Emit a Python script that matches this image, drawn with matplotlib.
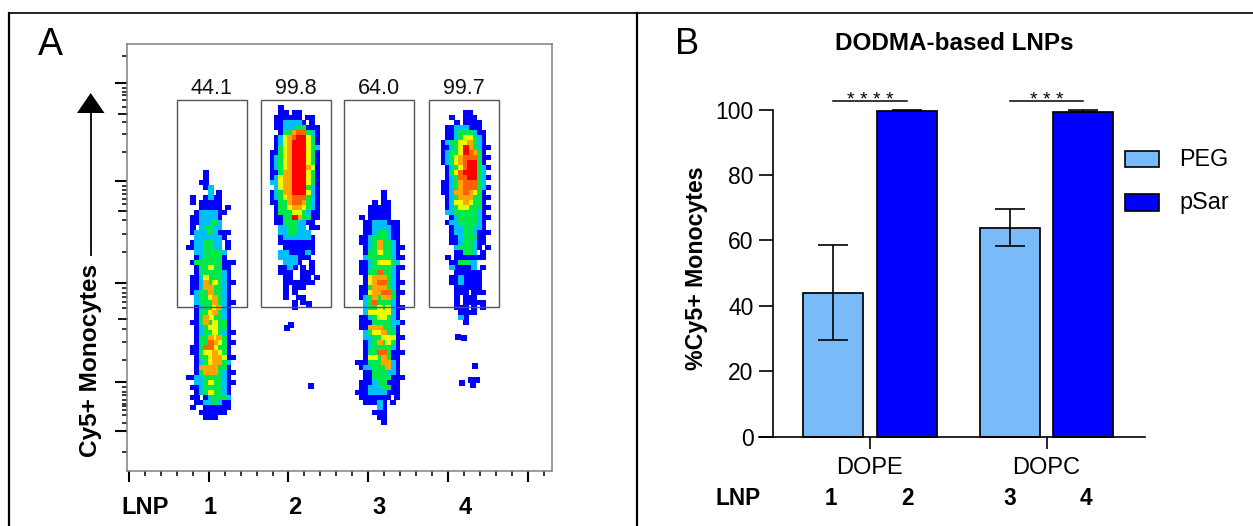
import matplotlib
matplotlib.use('Agg')
import matplotlib.pyplot as plt
from matplotlib.colors import ListedColormap
from matplotlib.patches import Rectangle, Polygon
import numpy as np

plt.rcParams['font.family'] = ['Liberation Sans', 'DejaVu Sans']

# Panel A: density levels, one string per row of cells
# . none, 1 blue, 2 sky, 3 green, 4 yellow, 5 orange, 6 red-orange, 7 red
pop1 = [
    ".....1......", ".....1......", "....11......", ".....12.....", "......2.1...",
    "..1..1211...", "..1.11111...", "....11111.1.", "...1222211..", "..1122221...",
    "..1122232...", "..1.23322...", "..122232111.", "...2222221..", "..1223322.1.",
    ".11223322.1.", "...2233332..", "...1233331..", "..1333333111", "...13343311.",
    "...13333321.", "..112433321.", "..1125343211", "..112553321.", "..123353321.",
    "...23345321.", "...233353211", "...12334521.", "...13345321.", "...13543321.",
    "..113534331.", "...12344331.", "...123343211", "...13354531.", "...133654311",
    "..113664331.", "..113445431.", "...133455411", "...12345532.", "...15555331.",
    "...135553211", ".1122333321.", "...223433211", "..112333321.", "...12343321.",
    "..11.123332.", "...11223211.", "..1..111111.", "....111111..", ".....111....",
]
pop2 = [
    "............", "...1........", "...11.11....", "..111111.11.", "..1122221.1.",
    "..1122233111", "...133566321", "..1245677431", "..1245777431", "..1345777432",
    ".11345777431", ".12345777431", ".12345777431", ".12345777541", ".11355777431",
    ".12455777431", ".22455777431", "..2455777321", ".12355777421", ".12345666321",
    ".11335665321", "..1334554321", "..1333443211", "..1133753311", "..113332211.",
    "...223322.11", "...2233222..", "...12222221.", "...11111111.", "....1111111.",
    "...22111121.", "...2222111..", "....2221..1.", "...1121.1.1.", "...111..111.",
    "....11..11.1", "....1111111.", "....1.111...", "....1.1.....", "....1..11...",
    "......1.1...", "......1.....",
]
pop3 = [
    "............", ".......1....", ".......1....", ".....1.11...", "....11111...",
    "....11111...", "..1.11111...", "...11222111.", "...11222211.", "...11233211.",
    "..112333211.", "..112353321.", "...123533211", "...13343321.", "...233333211",
    "..112344432.", "..1123333211", "..113363321.", "...14555321.", "...145663211",
    "..113555321.", "..1145566311", "..123535531.", "...23633321.", "...233434211",
    "...24444421.", "..112344321.", "..1113333221", "..115553321.", "...23445331.",
    "...223344411", "...12353431.", "...12333321.", "...133663111", "...14435311.",
    ".1113335521.", "..122333521.", "...11333221.", "...113333111", "..111233111.",
    "..112223311.", ".1112222111.", "..1111111.1.", "...11121.1..", "......21....",
    ".....111....", "......11....", ".......1....",
]
pop4 = [
    "............", "......11....", "...1..111...", "....1.1111..", "..11222111..",
    "..112333211.", "..112344321.", ".1233445321.", ".11234753211", ".1233476531.",
    ".12345666311", ".1234567731.", "..1234677321", "..134677732.", "..1236677321",
    ".1123566632.", ".11235666321", ".1125565431.", "..1235553311", "..124454331.",
    "..1234433311", "..223333321.", "...123333211", "..122333321.", "...12233221.",
    "...122332111", "...11233311.", "...11233211.", "....233321.1", "....11332.1.",
    "..1.1111111.", "...113322...", "...211112.1.", "....111111..", "...1121111..",
    "...1121111..", "....111111..", "....111.111.", "....1.111...", "....1.11111.",
    "....111.1.1.", ".....1111...", ".....21.....", "......1.....",
]
populations = [pop1, pop2, pop3, pop4]
pop_origin_x = [182, 266, 351, 437]
pop_origin_y = [170, 100, 185, 105]
cell_w = 4.4
cell_h = 5

# stray events outside the dense clouds
stray_x = [309, 291, 287, 311, 458, 464, 475, 462, 471, 477, 473]
stray_y = [304, 325, 328, 386, 337, 338, 366, 383, 380, 380, 385]

gate_left = [177, 261.3, 344.3, 429.3]
gate_right = [246.7, 331, 414.3, 499]
gate_top = 100.3
gate_bottom = 307.3
gate_labels = ['44.1', '99.8', '64.0', '99.7']
lnp_labels = ['1', '2', '3', '4']
lnp_a_x = [210, 295, 379, 465]

y_major = [83, 181, 283, 381.7, 430.7]
y_mid = [114, 211, 319]
y_minor = [56, 88, 92, 95, 100, 107, 122, 134, 152, 186, 190, 194, 199, 204, 220, 234, 252,
           288, 293, 297, 302, 308, 329, 342, 360, 387, 392, 395, 400, 404, 406, 410, 415, 423, 452]
x_major = [128.7, 208.7, 288.3, 368, 448, 528]
x_minor = [144.7, 160.7, 176.7, 192.7, 224.7, 240.7, 256.7, 272.7, 304.3, 320.3, 336.3, 352.3,
           384, 400, 416, 432, 464, 480, 496, 512, 544]

# Panel B
groups = ['DOPE', 'DOPC']
peg_values = [43.9, 63.8]
psar_values = [99.6, 99.4]
peg_err_low = [29.6, 58.2]
peg_err_high = [58.5, 69.7]
psar_err_high = [100.0, 100.0]
stars = ['* * * *', '* * *']
peg_color = '#78BBF8'
psar_color = '#0000FF'

W, H = 1253, 526
fig = plt.figure(figsize=(W / 100, H / 100), dpi=100)

# page layer in pixel coordinates for the borders and loose labels
page = fig.add_axes([0, 0, 1, 1])
page.set_xlim(0, W)
page.set_ylim(H, 0)
page.axis('off')
page.plot([9, 9], [12.5, H], color='black', lw=1.6)
page.plot([9, W], [12.5, 12.5], color='black', lw=1.2)
page.plot([636.5, 636.5], [12.5, H], color='black', lw=1.6)


def px_axes(left, top, right, bottom):
    return fig.add_axes([left / W, 1 - bottom / H, (right - left) / W, (bottom - top) / H])


# ---- panel A ----
ax = px_axes(127.3, 43.7, 552.3, 470.7)
ax.set_xlim(127.3, 552.3)
ax.set_ylim(470.7, 43.7)
ax.patch.set_alpha(0)
for s in ax.spines.values():
    s.set_color('#808080')
    s.set_linewidth(1.1)

colors = ListedColormap(['#0000FF', '#00BFFF', '#00E84A', '#E8FF00', '#FFA500', '#FF6000', '#FF0000'])
# each cell is a small square, low levels first so the hot ones sit on top
for rows, ox, oy in zip(populations, pop_origin_x, pop_origin_y):
    grid = np.array([[0 if c == '.' else int(c) for c in r.ljust(12, '.')[:12]] for r in rows])
    r_idx, c_idx = np.nonzero(grid)
    levels = grid[r_idx, c_idx]
    order = np.argsort(levels, kind='stable')
    ax.scatter(ox + cell_w * (c_idx[order] + 0.5), oy + cell_h * (r_idx[order] + 0.5), c=levels[order],
               cmap=colors, vmin=0.5, vmax=7.5, marker='s', s=18, linewidths=0, zorder=2)
ax.scatter(stray_x, stray_y, marker='s', s=20, color='#0000FF', linewidths=0, zorder=2)

for left, right, label in zip(gate_left, gate_right, gate_labels):
    ax.add_patch(Rectangle((left, gate_top), right - left, gate_bottom - gate_top,
                           fill=False, edgecolor='#555555', lw=1.0, zorder=3))
    ax.text((left + right) / 2, gate_top - 1.5, label, ha='center', va='bottom', fontsize=15.5, color='#111111')

ax.set_yticks(y_major)
ax.set_yticks(y_minor, minor=True)
ax.set_xticks(x_major)
ax.set_xticks(x_minor, minor=True)
ax.set_xticklabels([])
ax.set_yticklabels([])
ax.tick_params(axis='y', which='major', length=8.3, width=1.5, color='black')
ax.tick_params(axis='y', which='minor', length=3.6, width=1.1, color='black')
ax.tick_params(axis='x', which='major', length=8, width=1.5, color='black')
ax.tick_params(axis='x', which='minor', length=3.6, width=1.1, color='black')
for y in y_mid:
    ax.plot([119, 127.3], [y, y], color='black', lw=1.3, clip_on=False)

# arrow and vertical label next to the FACS plot
page.plot([90.7, 90.7], [112, 255], color='black', lw=1.3)
page.add_patch(Polygon([[90.7, 93], [77, 113], [104.5, 113]], closed=True, color='black', lw=0))
page.text(90, 360, 'Cy5+ Monocytes', rotation=90, ha='center', va='center', fontsize=17.6, fontweight='bold')
page.text(38, 55, 'A', fontsize=27, ha='left', va='baseline')
page.text(675, 54.4, 'B', fontsize=26, ha='left', va='baseline')
page.text(121, 514, 'LNP', fontsize=17, fontweight='bold', ha='left', va='baseline')
for x, label in zip(lnp_a_x, lnp_labels):
    page.text(x, 514, label, fontsize=17, fontweight='bold', ha='center', va='baseline')

# ---- panel B ----
b_left, b_right = 772.7, 1145
bx = px_axes(b_left, 109.7, b_right, 436.5)
group_px = 176.5
bx.set_xlim((b_left - 870) / group_px, (b_right - 870) / group_px)
bx.set_ylim(0, 100)
bx.patch.set_alpha(0)
x = np.arange(len(groups))
offset, width = 0.2074, 0.339
bx.bar(x - offset, peg_values, width, color=peg_color, edgecolor='black', lw=1.25, zorder=2, clip_on=False)
bx.bar(x + offset, psar_values, width, color=psar_color, edgecolor='black', lw=1.25, zorder=2, clip_on=False)

low = np.array(peg_values) - np.array(peg_err_low)
high = np.array(peg_err_high) - np.array(peg_values)
bx.errorbar(x - offset, peg_values, yerr=[low, high], fmt='none', ecolor='black', elinewidth=1.2,
            capsize=10.8, capthick=1.2, zorder=3, clip_on=False)
high2 = np.array(psar_err_high) - np.array(psar_values)
bx.errorbar(x + offset, psar_values, yerr=[np.zeros(2), high2], fmt='none', ecolor='black', elinewidth=1.2,
            capsize=10.8, capthick=1.2, zorder=3, clip_on=False)

for s in ['top', 'right']:
    bx.spines[s].set_visible(False)
for s in ['left', 'bottom']:
    bx.spines[s].set_linewidth(1.2)
bx.set_yticks([0, 20, 40, 60, 80, 100])
bx.set_xticks(x)
bx.set_xticklabels(groups)
bx.tick_params(axis='y', length=9.9, width=1.2, pad=4, labelsize=16.5)
bx.tick_params(axis='x', length=8.9, width=1.2, pad=5.5, labelsize=17)

# significance bars above each group
for i, s in enumerate(stars):
    bx.plot([i - offset, i + offset], [102.75, 102.75], color='black', lw=1.1, clip_on=False)
    bx.text(i, 101.4, s, ha='center', va='baseline', fontsize=14, clip_on=False)

# the x axis line also runs out to the left tick
page.plot([759, b_left], [436.5, 436.5], color='black', lw=1.2)
page.text(954, 43, 'DODMA-based LNPs', fontsize=17.5, fontweight='bold', ha='center', va='center')
page.text(697, 268, '%Cy5+ Monocytes', rotation=90, fontsize=16.7, fontweight='bold', ha='center', va='center')

# legend
page.add_patch(Rectangle((1125, 151), 33.5, 16, facecolor=peg_color, edgecolor='black', lw=1.2))
page.add_patch(Rectangle((1125, 194), 33.5, 17, facecolor=psar_color, edgecolor='black', lw=1.2))
page.text(1179, 159, 'PEG', fontsize=16.8, ha='left', va='center')
page.text(1179, 202, 'pSar', fontsize=16.8, ha='left', va='center')

# LNP row under panel B
page.text(715.6, 505, 'LNP', fontsize=16.3, fontweight='bold', ha='left', va='baseline')
for px, label in zip([831, 908, 1010, 1085.5], lnp_labels):
    page.text(px, 505, label, fontsize=16.3, fontweight='bold', ha='center', va='baseline')

fig.savefig('out.png', dpi=100)
